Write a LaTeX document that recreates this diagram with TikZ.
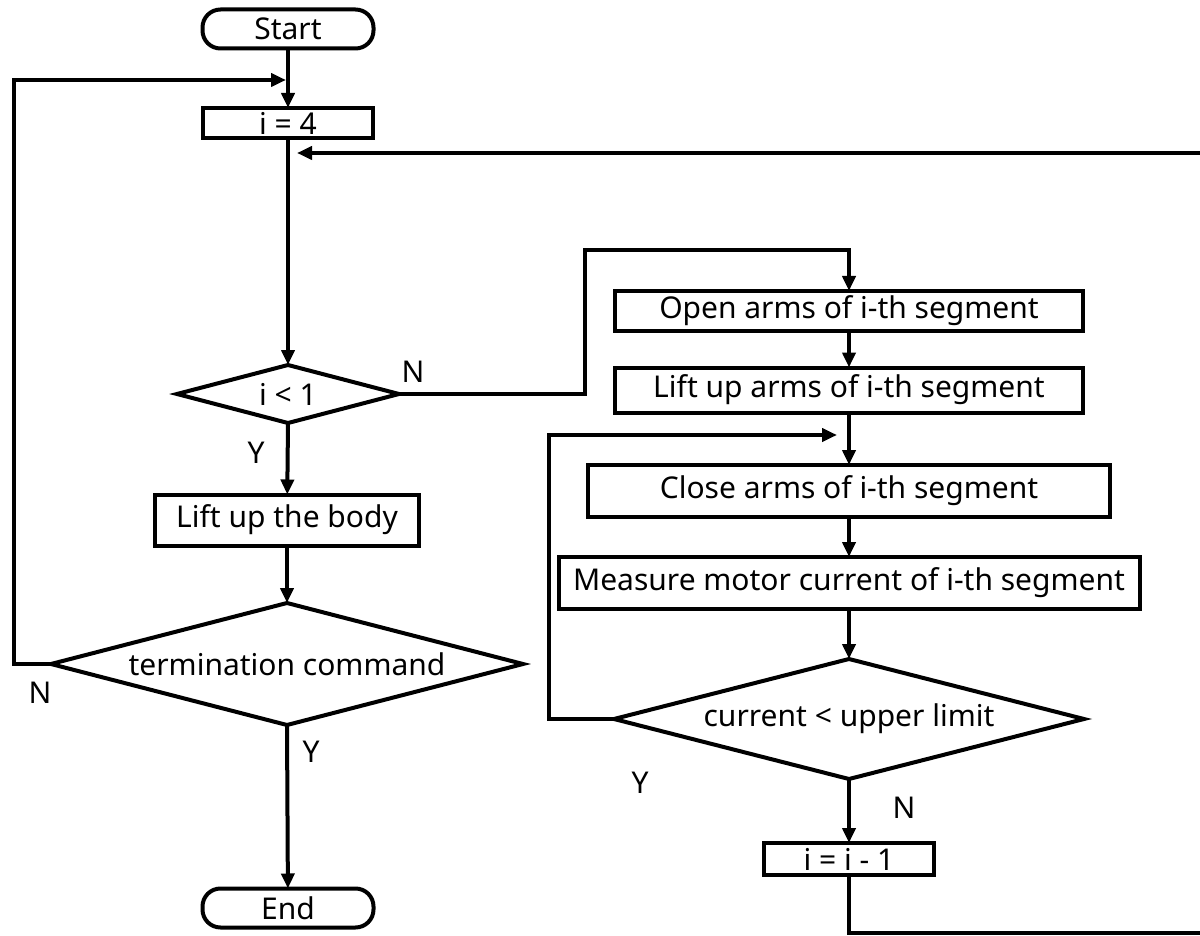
\documentclass[tikz,border=0pt]{standalone}
\usepackage{fontspec}
\setmainfont{Noto Sans}
\usetikzlibrary{arrows.meta,shapes.geometric}
\begin{document}
\begin{tikzpicture}[x=1pt,y=-1pt,
  every node/.style={font=\fontsize{30}{36}\selectfont, inner sep=0pt, outer sep=0pt},
  lw/.style={line width=4pt},
  proc/.style={draw, lw, rectangle},
  termbox/.style={draw, lw, rectangle, rounded corners=18pt, minimum width=171pt, minimum height=39pt},
  decbox/.style={draw, lw, diamond, aspect=4},
  arr/.style={lw, -{Triangle[length=15pt,width=13pt]}},
  con/.style={lw},
  lab/.style={}
]
\useasboundingbox (0,0) rectangle (1200,936);

% left column
\node[termbox] (start) at (288,29) {Start};
\node[proc, minimum width=170pt, minimum height=30pt] (i4) at (288,123) {i = 4};
\node[decbox, minimum width=222pt, minimum height=58pt] (ilt) at (288,394) {i < 1};
\node[proc, minimum width=264pt, minimum height=51pt] (body) at (287,520) {Lift up the body};
\node[decbox, minimum width=472pt, minimum height=122pt] (term) at (287,664) {termination command};
\node[termbox] (end) at (288,908) {End};

% right column
\node[proc, minimum width=468pt, minimum height=40pt] (open) at (849,311) {Open arms of i-th segment};
\node[proc, minimum width=468pt, minimum height=45pt] (lift) at (849,390) {Lift up arms of i-th segment};
\node[proc, minimum width=522pt, minimum height=52pt] (close) at (849,491) {Close arms of i-th segment};
\node[proc, minimum width=581pt, minimum height=52pt] (meas) at (849,583) {Measure motor current of i-th segment};
\node[decbox, minimum width=470pt, minimum height=120pt] (cur) at (849,719) {current < upper limit};
\node[proc, minimum width=170pt, minimum height=32pt] (dec) at (849,859) {i = i - 1};

% helper coordinates
\coordinate (lp) at (14,80);
\coordinate (lpend) at (286,80);
\coordinate (n1) at (585,250);
\coordinate (yl) at (549,435);
\coordinate (ylend) at (837,435);
\coordinate (rb) at (1203,933);
\coordinate (rt) at (1203,153);
\coordinate (rtend) at (297,153);

% connectors
\draw[arr] (start) -- (i4);
\draw[arr] (i4) -- (ilt.north);
\draw[arr] (ilt.south) -- (body);
\draw[arr] (body) -- (term.north);
\draw[arr] (term.south) -- (end);
\draw[arr] (term.west) -| (lp) -- (lpend);
\draw[arr] (ilt.east) -| (n1) -| (open.north);
\draw[arr] (open) -- (lift);
\draw[arr] (lift) -- (close);
\draw[arr] (close) -- (meas);
\draw[arr] (meas) -- (cur.north);
\draw[arr] (cur.south) -- (dec);
\draw[arr] (cur.west) -| (yl) -- (ylend);
\draw[arr] (dec.south) |- (rb) -- (rt) -- (rtend);

% labels
\node[lab] (lN1) at (413,372) {N};
\node[lab] (lY1) at (256,453) {Y};
\node[lab] (lN2) at (40,693) {N};
\node[lab] (lY2) at (311,752) {Y};
\node[lab] (lY3) at (640,783) {Y};
\node[lab] (lN3) at (904,808) {N};
\end{tikzpicture}
\end{document}
